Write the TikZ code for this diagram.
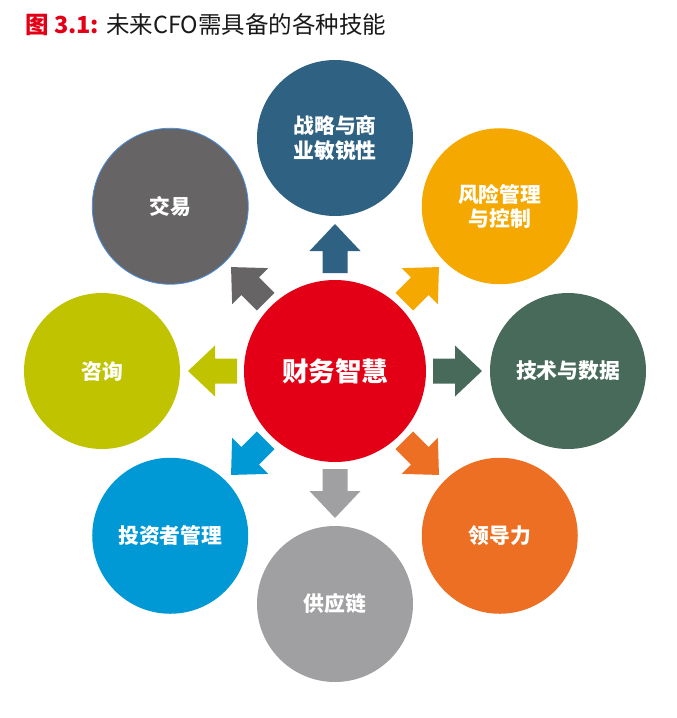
\documentclass[tikz,border=0pt]{standalone}
\usepackage{fontspec}
\usetikzlibrary{calc}
\newfontfamily\cjk{Noto Sans CJK SC}
\definecolor{cred}{HTML}{E30016}
\definecolor{cstrat}{HTML}{2E6182}
\definecolor{crisk}{HTML}{F5A900}
\definecolor{ctech}{HTML}{476A5B}
\definecolor{clead}{HTML}{EC6F23}
\definecolor{csupply}{HTML}{A0A0A2}
\definecolor{cinv}{HTML}{0098D5}
\definecolor{ccons}{HTML}{BFC300}
\definecolor{cexch}{HTML}{666464}
\definecolor{cexline}{HTML}{4A90E2}
\tikzset{
  skill/.style={circle, minimum size=156pt, inner sep=0pt, text=white, align=center,
    font=\cjk\bfseries\fontsize{20.8}{24.5}\selectfont},
  hub/.style={circle, minimum size=182pt, inner sep=0pt, fill=cred, text=white,
    font=\cjk\bfseries\fontsize{26.5}{30}\selectfont}
}
\begin{document}
\begin{tikzpicture}[x=1pt,y=1pt]
\useasboundingbox (0,0) rectangle (677,-718);
\node[anchor=base west, inner sep=0pt, font=\cjk\fontsize{23.5}{27}\selectfont] (title) at (25,-33)
  {\textcolor{cred}{\bfseries 图 3.1:} \textcolor{black!90}{未来CFO需具备的各种技能}};
\node[hub] (hub) at (335,-371) {财务智慧};
\node[skill, fill=cstrat] (strat) at ($(hub.center)+(90:233)$) {战略与商\\业敏锐性};
\node[skill, fill=crisk] (risk) at ($(hub.center)+(45:233)$) {风险管理\\与控制};
\node[skill, fill=ctech] (tech) at ($(hub.center)+(0:233)$) {技术与数据};
\node[skill, fill=clead] (lead) at ($(hub.center)+(-45:233)$) {领导力};
\node[skill, fill=csupply] (supply) at ($(hub.center)+(-90:233)$) {供应链};
\node[skill, fill=cinv] (inv) at ($(hub.center)+(-135:233)$) {投资者管理};
\node[skill, fill=ccons] (cons) at ($(hub.center)+(180:233)$) {咨询};
\node[skill, fill=cexch, draw=cexline, line width=0.8pt] (exch) at ($(hub.center)+(135:233)$) {交易};
\foreach \a/\c in {90/cstrat,45/crisk,0/ctech,-45/clead,-90/csupply,-135/cinv,180/ccons,135/cexch}{
  \begin{scope}[shift={(hub.center)}, rotate=\a]
    \fill[\c] (98,12.5) -- (120,12.5) -- (120,25.5) -- (147,0) -- (120,-25.5) -- (120,-12.5) -- (98,-12.5) -- cycle;
  \end{scope}
}
\end{tikzpicture}
\end{document}
